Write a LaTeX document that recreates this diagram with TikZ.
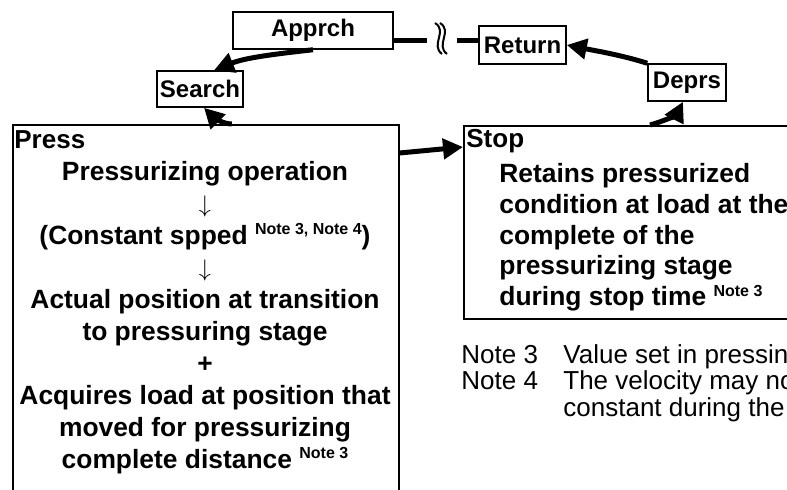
\documentclass[tikz,border=0pt]{standalone}
\usepackage{fontspec}
\setmainfont{Liberation Sans}
\usetikzlibrary{arrows.meta,positioning}

\newcommand{\notemark}[1]{\raisebox{4.8pt}{\fontsize{8pt}{8pt}\selectfont #1}}

\begin{document}
\begin{tikzpicture}[x=0.5pt, y=-0.5pt,
    stagebox/.style={draw, line width=0.75pt, fill=white, inner sep=0pt, font=\fontsize{12pt}{16pt}\selectfont\bfseries},
    bigbox/.style={draw, line width=0.75pt, fill=white, inner sep=0pt},
    boxtext/.style={inner sep=0pt, font=\fontsize{13.2pt}{16pt}\selectfont\bfseries},
    flow/.style={line width=2.5pt, -{Triangle[length=10pt,width=10pt]}},
    link/.style={line width=2.5pt}]

    \useasboundingbox (0,0) rectangle (787,489);
    \clip (0,0) rectangle (787,489);

    % Stage boxes
    \node (apprch) [stagebox, minimum width=80pt, minimum height=18.5pt] at (313,30.5) {Apprch};
    \node (search) [stagebox, minimum width=43pt, minimum height=18pt] at (200,89) {Search};
    \node (return) [stagebox, minimum width=43.5pt, minimum height=19pt] at (522.5,45) {Return};
    \node (deprs) [stagebox, minimum width=39pt, minimum height=18.5pt] at (687,82.5) {Deprs};

    % Main boxes
    \node (press) [bigbox, anchor=north west, minimum width=193pt, minimum height=200pt] at (12,124) {};
    \node (stop) [bigbox, anchor=north west, minimum width=170pt, minimum height=96.5pt] at (463,125) {};

    % Press text
    \node (presstitle) [boxtext, anchor=base west, font=\fontsize{13pt}{16pt}\selectfont\bfseries] at (14,148) {Press};
    \node (presstext) [boxtext, anchor=north, align=center] at (205,161) {Pressurizing operation\\ $\downarrow$\\ (Constant spped \notemark{Note 3, Note 4})\\ $\downarrow$\\ Actual position at transition\\ to pressuring stage\\ +\\ Acquires load at position that\\ moved for pressurizing\\ complete distance \notemark{Note 3}};

    % Stop text
    \node (stoptitle) [boxtext, anchor=base west, font=\fontsize{13pt}{16pt}\selectfont\bfseries] at (466,147) {Stop};
    \node (stoptext) [boxtext, anchor=north west, align=left, font=\fontsize{13.2pt}{15.4pt}\selectfont\bfseries] at (499,163) {Retains pressurized\\ condition at load at the\\ complete of the\\ pressurizing stage\\ during stop time \notemark{Note 3}};

    % Notes
    \node (notes) [anchor=north west, inner sep=0pt, align=left, font=\fontsize{13pt}{11.5pt}\selectfont] at (461,344.5) {\makebox[51pt][l]{Note 3}Value set in pressing\\ \makebox[51pt][l]{Note 4}The velocity may not\\ \makebox[51pt][l]{}constant during the};

    % Connections
    \coordinate (brkL) at (427,40);
    \coordinate (brkR) at (457,40);
    \draw[link] ([yshift=-4.75pt]apprch.east) -- (brkL);
    \draw[link] (brkR) -- ([yshift=2.5pt]return.west);
    \draw[line width=1pt] (435,23) .. controls (448,31) and (430,45) .. (442,54);
    \draw[line width=1pt] (440,23) .. controls (453,31) and (435,45) .. (447,54);

    \draw[flow] (apprch.south) .. controls +(-45,5) and +(30,-12) .. ([xshift=7pt]search.north);
    \draw[flow] ([xshift=13pt]press.north) .. controls +(-10,0) and +(8,8) .. ([xshift=2pt]search.south);
    \draw[flow] ([yshift=-14.5pt]press.north east) -- ([yshift=-11pt]stop.north west);
    \draw[flow] ([xshift=93.5pt]stop.north west) .. controls +(15,-4) and +(-6,12) .. ([xshift=-2pt]deprs.south);
    \draw[flow] (deprs.north west) .. controls +(-25,-8) and +(30,6) .. (return.east);

\end{tikzpicture}
\end{document}
